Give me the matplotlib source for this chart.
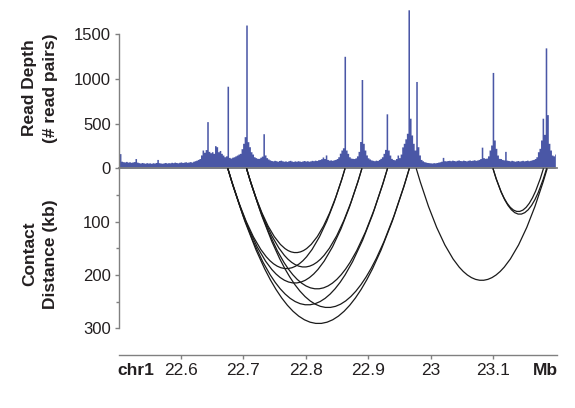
import numpy as np
import matplotlib
matplotlib.use('Agg')
import matplotlib.pyplot as plt
from matplotlib.path import Path
from matplotlib.patches import PathPatch

plt.rcParams['font.family'] = ['Liberation Sans', 'DejaVu Sans']

# ---------------- data ----------------
bin_start_mb = 22.5
bin_size_mb = 0.0025
# read depth (# read pairs) per 2.5 kb bin, 22.500 .. 23.200 Mb
read_depth = [
    82, 165, 80, 75, 72, 78, 70, 74, 68, 72, 76, 110, 70, 64, 60, 66, 62, 58, 64, 60,
    62, 57, 63, 60, 66, 100, 64, 60, 58, 62, 66, 60, 64, 62, 68, 64, 70, 66, 62, 68,
    72, 66, 70, 74, 68, 72, 76, 70, 80, 86, 92, 100, 110, 150, 205, 180, 210, 522, 190, 175,
    186, 168, 254, 242, 186, 200, 168, 149, 130, 140, 917, 123, 115, 125, 130, 140, 149, 160, 168, 220,
    280, 354, 1600, 298, 242, 186, 160, 130, 120, 112, 112, 125, 137, 387, 150, 120, 105, 95, 88, 84,
    90, 86, 80, 88, 92, 85, 80, 84, 78, 86, 90, 82, 78, 84, 80, 86, 82, 78, 84, 88,
    82, 86, 80, 84, 90, 86, 92, 88, 96, 100, 108, 127, 110, 150, 100, 92, 95, 90, 96, 100,
    110, 130, 170, 205, 230, 1251, 205, 168, 130, 115, 112, 110, 118, 140, 190, 300, 992, 280, 205, 150,
    118, 105, 95, 90, 86, 92, 88, 100, 112, 130, 168, 212, 609, 205, 149, 112, 100, 96, 110, 149,
    120, 160, 240, 280, 330, 392, 1770, 560, 373, 280, 205, 970, 242, 150, 100, 85, 75, 70, 66, 64,
    62, 60, 64, 62, 66, 70, 74, 80, 123, 86, 84, 88, 90, 86, 92, 88, 84, 90, 94, 88,
    86, 92, 88, 84, 90, 94, 88, 92, 96, 90, 94, 100, 110, 237, 120, 112, 115, 140, 205, 261,
    1071, 317, 224, 149, 112, 110, 100, 95, 190, 92, 88, 84, 90, 86, 80, 84, 88, 82, 86, 90,
    84, 88, 92, 86, 90, 96, 100, 110, 130, 186, 224, 317, 560, 380, 1345, 600, 280, 205, 149, 140,
    160,
]

# contact arcs: left and right anchor (Mb); depth = contact distance (kb)
arc_left_mb = [22.675, 22.675, 22.675, 22.675, 22.705, 22.705, 22.705, 22.705,
               22.977, 23.100, 23.100]
arc_right_mb = [22.863, 22.890, 22.931, 22.966, 22.863, 22.890, 22.931, 22.966,
                23.187, 23.181, 23.186]

depth_ticks = [0, 500, 1000, 1500]
dist_ticks = [100, 200, 300]
dist_minor_ticks = [50, 150, 250]
x_ticks = [22.6, 22.7, 22.8, 22.9, 23.0, 23.1]
x_ticklabels = ['22.6', '22.7', '22.8', '22.9', '23', '23.1']

# ---------------- style ----------------
W, H = 575, 408
blue = '#4a57a6'
gray = '#808080'
txt = '#231f20'
xlim = (22.5, 23.2025)

fig = plt.figure(figsize=(W / 100, H / 100), dpi=100)

left = 118.6 / W
width = (556.9 - 118.6) / W
base_px = 168.4

ax_top = fig.add_axes([left, (H - base_px) / H, width, (base_px - 8) / H])
ax_bot = fig.add_axes([left, (H - 355) / H, width, (355 - base_px) / H])

# ---- top: read depth ----
pos = bin_start_mb + bin_size_mb * np.arange(len(read_depth))
ax_top.fill_between(pos, read_depth, 0, step='mid', color=blue, lw=0, zorder=1)
ax_top.set_xlim(*xlim)
ax_top.set_ylim(0, 1790)
for s in ['top', 'right']:
    ax_top.spines[s].set_visible(False)
ax_top.spines['left'].set_bounds(0, 1500)
ax_top.spines['left'].set_color(gray)
ax_top.spines['left'].set_linewidth(1.0)
ax_top.spines['bottom'].set_color(gray)
ax_top.spines['bottom'].set_linewidth(1.3)
ax_top.set_yticks(depth_ticks)
ax_top.set_yticklabels([str(v) for v in depth_ticks])
ax_top.tick_params(axis='y', length=3, width=1.0, color=gray, direction='out',
                   pad=2.5, labelsize=12, labelcolor=txt)
ax_top.set_xticks([])
ax_top.patch.set_visible(False)

# ---- bottom: contact arcs ----
for l, r in zip(arc_left_mb, arc_right_mb):
    d = (r - l) * 1000.0
    verts = [(l, 0), ((l + r) / 2.0, 2 * d), (r, 0)]
    codes = [Path.MOVETO, Path.CURVE3, Path.CURVE3]
    ax_bot.add_patch(PathPatch(Path(verts, codes), fill=False,
                               edgecolor='#1a1a1a', lw=0.9))
ax_bot.set_xlim(*xlim)
ax_bot.set_ylim(350, 0)
for s in ['top', 'right']:
    ax_bot.spines[s].set_visible(False)
ax_bot.spines['left'].set_bounds(0, 300)
ax_bot.spines['left'].set_color(gray)
ax_bot.spines['left'].set_linewidth(1.0)
ax_bot.spines['bottom'].set_color(gray)
ax_bot.spines['bottom'].set_linewidth(1.0)
ax_bot.set_yticks(dist_ticks)
ax_bot.set_yticklabels([str(v) for v in dist_ticks])
ax_bot.set_yticks(dist_minor_ticks, minor=True)
ax_bot.tick_params(axis='y', which='major', length=3, width=1.0, color=gray,
                   direction='out', pad=2.5, labelsize=12, labelcolor=txt)
ax_bot.tick_params(axis='y', which='minor', length=2, width=1.0, color=gray,
                   direction='out')

chr_pos = 22.5275
mb_pos = 23.1835
ax_bot.set_xticks([chr_pos] + x_ticks + [mb_pos])
ax_bot.set_xticklabels(['chr1'] + x_ticklabels + ['Mb'])
ax_bot.tick_params(axis='x', length=3, width=1.0, color=gray, direction='out',
                   pad=3, labelsize=12.5, labelcolor=txt)
xt = ax_bot.xaxis.get_major_ticks()
for t in (xt[0], xt[-1]):
    t.tick1line.set_visible(False)
    t.label1.set_fontweight('bold')
ax_bot.patch.set_visible(False)

# ---- axis titles ----
fig.text(40 / W, 1 - 88 / H, 'Read Depth\n(# read pairs)', rotation=90,
         ha='center', va='center', multialignment='center', fontsize=12.5,
         fontweight='bold', color=txt, linespacing=1.42)
fig.text(40 / W, 1 - 254 / H, 'Contact\nDistance (kb)', rotation=90,
         ha='center', va='center', multialignment='center', fontsize=12.5,
         fontweight='bold', color=txt, linespacing=1.42)

fig.savefig('out.png', dpi=100)
